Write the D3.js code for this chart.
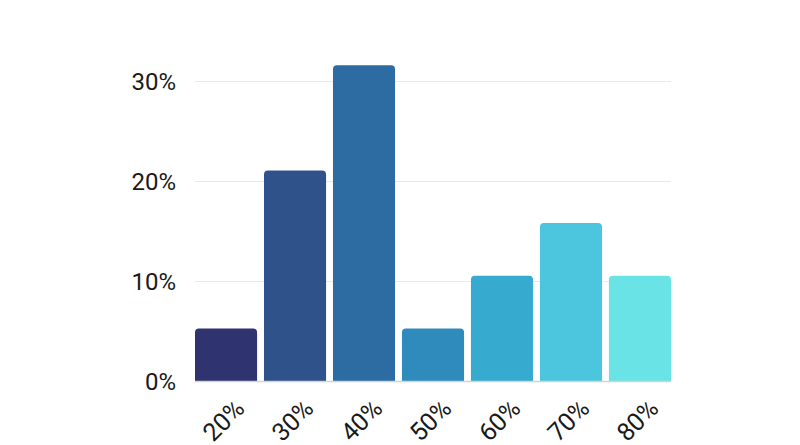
<!DOCTYPE html>
<html><head><meta charset="utf-8">
<script src="https://cdn.jsdelivr.net/npm/d3@7"></script>
<style>body{margin:0;background:#fff;font-family:Roboto,sans-serif}</style>
</head><body>
<svg id="c" width="800" height="445"></svg>
<script>
const categories = ["20%","30%","40%","50%","60%","70%","80%"];
const values = [5.26, 21.05, 31.58, 5.26, 10.53, 15.79, 10.53];
const colors = ["#2f336f","#2f528b","#2d6ca3","#2e8bbc","#37aad0","#4cc6de","#6ae3e6"];
const yTicks = [0, 10, 20, 30];

const svg = d3.select("#c");
const x = d3.scaleBand().domain(categories).range([195, 671]).paddingInner(0.1).paddingOuter(0);
const y = d3.scaleLinear().domain([0, 30]).range([381, 81]);

// gridlines
svg.append("g").selectAll("line").data(yTicks.filter(d=>d>0)).join("line")
  .attr("x1", 195).attr("x2", 671)
  .attr("y1", d=>y(d)+0.5).attr("y2", d=>y(d)+0.5)
  .attr("stroke", "#e6ebee").attr("stroke-width", 1);

// y labels
const yAxis = d3.axisLeft(y).tickValues(yTicks).tickFormat(d=>d+"%").tickSize(0).tickPadding(0);
const gy = svg.append("g").attr("transform","translate(176,0)").call(yAxis);
gy.select(".domain").remove();
gy.selectAll("text").attr("font-size", 24).attr("font-family","Roboto, sans-serif").attr("fill","#1a1a1a").attr("dy","0.35em");

// bars with rounded top corners
const r = 4;
svg.append("g").selectAll("path").data(values).join("path")
  .attr("fill", (d,i)=>colors[i])
  .attr("d", (d,i)=>{
    const x0 = x(categories[i]), w = x.bandwidth(), y0 = y(d), yb = y(0);
    return `M${x0},${yb}V${y0+r}Q${x0},${y0} ${x0+r},${y0}H${x0+w-r}Q${x0+w},${y0} ${x0+w},${y0+r}V${yb}Z`;
  });

// baseline
svg.append("line").attr("x1",195).attr("x2",671).attr("y1",y(0)+0.5).attr("y2",y(0)+0.5)
  .attr("stroke","#d0d4d8").attr("stroke-width",1.5);

// x labels
const xAxis = d3.axisBottom(x).tickSize(0).tickPadding(0);
const gx = svg.append("g").call(xAxis);
gx.select(".domain").remove();
gx.selectAll(".tick").attr("transform", d=>`translate(${x(d)+x.bandwidth()/2},0)`);
gx.selectAll("text")
  .attr("font-size", 25).attr("font-family","Roboto, sans-serif").attr("fill","#1a1a1a")
  .attr("text-anchor","end").attr("dy",null).attr("y",null)
  .attr("transform","translate(20,410) rotate(-45)");
</script>
</body></html>
